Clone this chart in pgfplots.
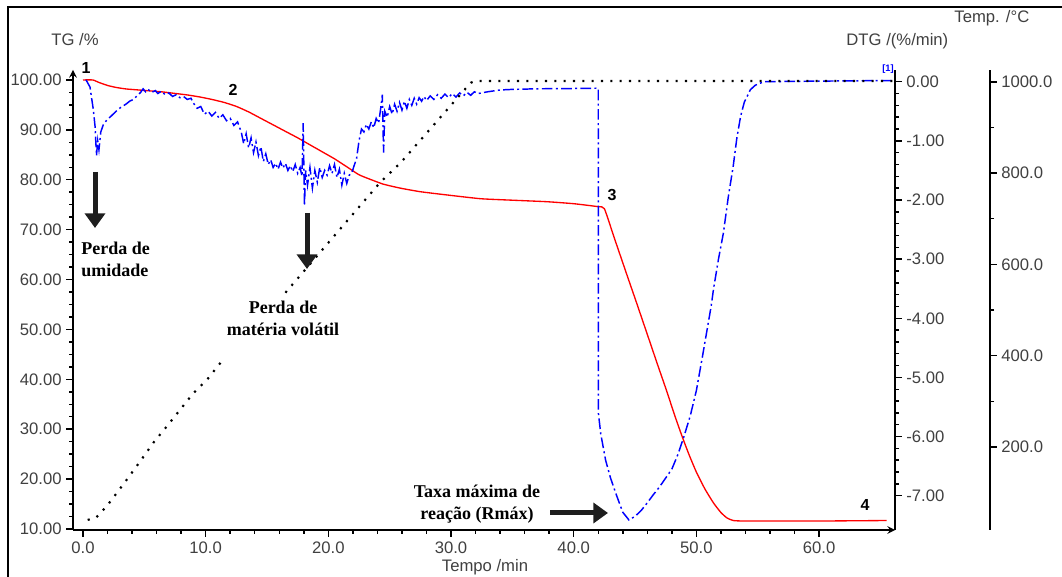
\documentclass[border=0pt]{standalone}
\usepackage{fontspec}
\setmainfont{Liberation Sans}
\newfontfamily\annfont{Liberation Serif}
\usepackage{pgfplots}
\pgfplotsset{compat=1.18}
\usetikzlibrary{arrows.meta}
\definecolor{tickgray}{RGB}{64,64,64}
\definecolor{dtgblue}{RGB}{0,0,255}
\definecolor{tgred}{RGB}{255,0,0}
\pgfplotsset{
  every axis/.append style={
    scale only axis, width=616.5pt, height=345pt,
    at={(54.75pt,35.25pt)}, anchor=south west,
    xmin=-0.815, xmax=66.19,
    tick label style={font=\fontsize{12.5}{14}\selectfont, text=tickgray},
    /pgf/number format/assume math mode=true,
    axis line style={-, line width=1.5pt},
    tick style={black, line width=1.1pt},
    major tick length=5pt, minor tick length=3pt,
    clip=false,
  }
}
\begin{document}
\begin{tikzpicture}
\useasboundingbox (0,0) rectangle (796.5pt,432.75pt);
\draw[line width=2.2pt] (6pt,-5pt) -- (6pt,427.5pt) -- (805pt,427.5pt);

% TG axis
\begin{axis}[
  ymin=9.8, ymax=102,
  axis x line=bottom, axis y line=left,
  tick align=outside,
  xtick={0,10,...,60}, minor x tick num=4,
  ytick={10,20,...,100}, minor y tick num=3,
  x tick label style={/pgf/number format/.cd, fixed, fixed zerofill, precision=1},
  y tick label style={/pgf/number format/.cd, fixed, fixed zerofill, precision=2},
]
\addplot[tgred, line width=1pt, smooth, tension=0.3] coordinates {
(0,100) (0.8,100) (1.3,99.5) (2.0,98.9) (2.7,98.5) (3.5,98.2) (4.5,98.0) (5.5,97.8)
(6.5,97.6) (7.5,97.3) (8.5,97.0) (9.5,96.6) (10.5,96.1) (11.5,95.5) (12.5,94.7)
(13.5,93.6) (14.5,92.3) (15.5,91.0) (16.5,89.7) (17.5,88.4) (18.5,87.0) (19.5,85.6)
(20.5,84.2) (21.5,82.6) (22.5,81.0) (23.5,80.0) (24.5,79.1) (25.9,78.3) (27.5,77.6)
(29.5,77.0) (32.4,76.2) (35,75.9) (37.8,75.6) (40,75.2) (42.0,74.6) (42.5,74.2)
(43.3,68.4) (44.3,61.2) (45.1,55.5) (46.0,49.0) (46.8,43.2) (47.6,37.5) (48.2,33.0)
(48.8,28.8) (49.4,24.9) (50.0,21.4) (50.7,18.0) (51.4,15.2) (52.0,13.3) (52.5,12.2)
(53.0,11.7) (54,11.6) (60,11.6) (65.5,11.7)
};
\end{axis}

% DTG axis
\begin{axis}[
  ymin=-7.58, ymax=0.198,
  hide x axis, axis y line*=right,
  tick align=outside,
  ytick={-7,-6,...,0}, minor y tick num=4,
  y tick label style={/pgf/number format/.cd, fixed, fixed zerofill, precision=2},
]
\addplot[dtgblue, line width=1.1pt, dash pattern=on 8pt off 2.5pt on 1.5pt off 2.5pt] coordinates {
(0.25,0.03) (0.57,-0.09) (0.84,-0.47) (0.98,-0.75) (1.1,-1.25) (1.2,-1.0) (1.3,-1.15)
(1.45,-0.85) (1.65,-0.73) (1.93,-0.65) (2.3,-0.58) (2.6,-0.52) (2.9,-0.46) (3.2,-0.42)
(3.5,-0.38) (3.8,-0.33) (4.1,-0.30) (4.4,-0.24) (4.7,-0.18) (4.9,-0.12) (5.1,-0.17)
(5.3,-0.13) (5.6,-0.18) (5.9,-0.15) (6.1,-0.20) (6.4,-0.16) (6.7,-0.22) (7.0,-0.19)
(7.3,-0.25) (7.6,-0.22) (7.9,-0.27) (8.2,-0.25) (8.5,-0.30) (8.8,-0.28) (9.0,-0.36)
(9.3,-0.45) (9.6,-0.42) (9.9,-0.55) (10.2,-0.50) (10.5,-0.58) (10.8,-0.52) (11.1,-0.62)
(11.4,-0.56) (11.7,-0.66) (12.0,-0.62) (12.3,-0.74) (12.6,-0.68) (12.9,-0.85) (13.1,-1.05)
(13.3,-0.88) (13.5,-1.12) (13.7,-0.95) (13.9,-1.2) (14.1,-1.02) (14.3,-1.25) (14.5,-1.1)
(14.7,-1.35) (14.9,-1.22) (15.1,-1.40) (15.3,-1.32) (15.5,-1.45) (15.7,-1.38) (15.9,-1.48)
(16.1,-1.36) (16.3,-1.46) (16.5,-1.38) (16.7,-1.50) (16.9,-1.42) (17.1,-1.52) (17.3,-1.40)
(17.5,-1.55) (17.7,-1.45) (17.85,-1.60) (17.95,-0.70) (18.05,-2.10) (18.15,-1.5) (18.3,-1.75)
(18.5,-1.45) (18.7,-1.80) (18.9,-1.50) (19.1,-1.70) (19.3,-1.45) (19.5,-1.62) (19.7,-1.50)
(19.9,-1.58) (20.1,-1.42) (20.3,-1.55) (20.5,-1.40) (20.7,-1.62) (20.9,-1.48) (21.1,-1.75)
(21.3,-1.55) (21.5,-1.72) (21.7,-1.58) (21.9,-1.55) (22.1,-1.42) (22.3,-1.30) (22.5,-1.0)
(22.7,-0.80) (22.9,-0.85) (23.1,-0.72) (23.3,-0.80) (23.5,-0.68) (23.7,-0.78) (23.9,-0.62)
(24.1,-0.70) (24.3,-0.40) (24.4,-0.22) (24.5,-1.20) (24.6,-0.50) (24.8,-0.60) (25.0,-0.42)
(25.2,-0.55) (25.4,-0.38) (25.6,-0.50) (25.8,-0.35) (26.0,-0.48) (26.2,-0.33) (26.4,-0.45)
(26.6,-0.30) (26.8,-0.40) (27.0,-0.28) (27.2,-0.38) (27.4,-0.27) (27.6,-0.33) (27.8,-0.25)
(28.0,-0.32) (28.3,-0.24) (28.6,-0.30) (28.9,-0.22) (29.2,-0.28) (29.5,-0.21) (29.8,-0.27)
(30.1,-0.20) (30.4,-0.26) (30.7,-0.19) (31.0,-0.24) (31.3,-0.18) (31.6,-0.23) (31.9,-0.17)
(32.2,-0.20) (33.0,-0.17) (34.0,-0.14) (35.0,-0.13) (37.0,-0.12) (40.0,-0.115) (42.0,-0.11)
(42.01,-5.6) (42.2,-5.95) (42.6,-6.4) (43.0,-6.7) (43.5,-7.0) (44.0,-7.28) (44.5,-7.41)
(45.0,-7.35) (45.5,-7.25) (46.0,-7.12) (46.5,-6.98) (47.0,-6.85) (47.5,-6.7) (48.0,-6.55)
(48.5,-6.3) (49.0,-5.99) (49.5,-5.65) (50.0,-5.22) (50.5,-4.64) (51.2,-3.8) (51.4,-3.5)
(51.8,-3.0) (52.2,-2.56) (52.6,-1.95) (53.0,-1.43) (53.3,-0.95) (53.6,-0.59) (53.9,-0.35)
(54.4,-0.135) (54.8,-0.06) (55.5,0.0) (60,0.01) (65.9,0.02)
};
\end{axis}

% Temperature data
\begin{axis}[ymin=18, ymax=1026, hide axis]
\addplot[black, line width=1.6pt, dash pattern=on 1.6pt off 5.4pt] coordinates {
(0.38,40) (1.1,46) (1.93,70) (2.75,99) (3.56,128) (4.65,168) (5.73,209) (6.83,245)
(7.9,281) (9.0,318) (10.1,347) (11.4,391)
};
\addplot[black, line width=1.6pt, dash pattern=on 1.6pt off 5.4pt] coordinates {
(16.5,538) (18.1,588) (24.2,779) (25.9,823) (31.6,998) (32.0,1002) (66.1,1002)
};
\end{axis}

% Temperature scale
\begin{axis}[
  at={(742.5pt,35.25pt)}, anchor=south east, width=1pt,
  xmin=0, xmax=1, ymin=18, ymax=1026,
  hide x axis, axis y line*=right, tick align=outside,
  ytick={200,400,...,1000}, minor y tick num=1,
  y tick label style={/pgf/number format/.cd, fixed, fixed zerofill, precision=1, 1000 sep={}},
]
\addplot[draw=none] coordinates {(0.5,500)};
\end{axis}

\begin{scope}[x=0.75pt, y=-0.75pt, shift={(0pt,432.75pt)}]
  \node[text=tickgray, font=\fontsize{12.5}{14}\selectfont] at (75,40) {TG /\%};
  \node[text=tickgray, font=\fontsize{12.5}{14}\selectfont, anchor=east] at (953,41) {DTG /(\%/min)};
  \node[text=tickgray, font=\fontsize{12.5}{14}\selectfont, anchor=east] at (1034,18) {Temp. /°C};
  \node[text=tickgray, font=\fontsize{12.5}{14}\selectfont] at (485,567) {Tempo /min};
  \node[text=dtgblue, font=\fontsize{7}{8}\selectfont\bfseries] at (888,69) {[1]};

  \node[font=\fontsize{12}{13}\selectfont\bfseries] at (86,68) {1};
  \node[font=\fontsize{12}{13}\selectfont\bfseries] at (233,90) {2};
  \node[font=\fontsize{12}{13}\selectfont\bfseries] at (612,195) {3};
  \node[font=\fontsize{12}{13}\selectfont\bfseries] at (865,505) {4};

  \node[anchor=west, align=left, inner sep=0pt, font=\annfont\bfseries\fontsize{13.5}{16.5}\selectfont] at (81,259) {Perda de\\umidade};
  \node[align=center, inner sep=0pt, font=\annfont\bfseries\fontsize{13.5}{16.5}\selectfont] at (283,318) {Perda de\\matéria volátil};
  \node[align=center, inner sep=0pt, font=\annfont\bfseries\fontsize{13.5}{16.5}\selectfont] at (477,504) {Taxa máxima de\\reação (Rmáx)};

  \definecolor{arrowc}{RGB}{30,30,30}
  \draw[arrowc, line width=3.75pt, -{Triangle[width=15pt,length=11pt]}] (95,172) -- (95,228);
  \draw[arrowc, line width=3.75pt, -{Triangle[width=15pt,length=11pt]}] (307,213) -- (307,269);
  \draw[arrowc, line width=3.75pt, -{Triangle[width=15pt,length=11pt]}] (550,513) -- (608,513);
\end{scope}
\end{tikzpicture}
\end{document}
